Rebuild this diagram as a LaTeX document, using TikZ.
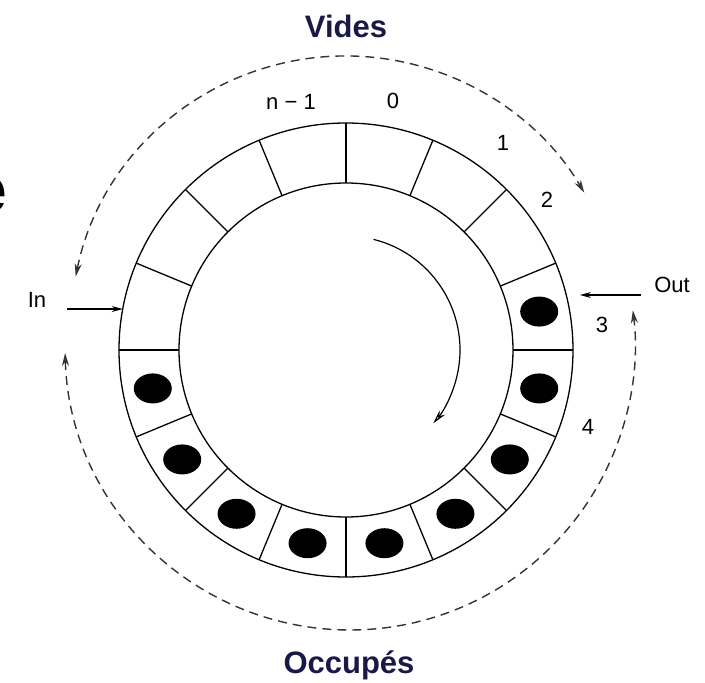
\documentclass[tikz,border=0pt]{standalone}
\usepackage{fontspec}
\setmainfont{Liberation Sans}
\usetikzlibrary{arrows.meta,calc}
\definecolor{titleblue}{RGB}{25,25,70}

\begin{document}
\begin{tikzpicture}[x=1pt,y=1pt,
  ring/.style={line width=1.3pt},
  flow/.style={dash pattern=on 9pt off 6pt,line width=1.4pt,color=black!80,
    {Stealth[open,length=13pt,width=7pt]}-{Stealth[open,length=13pt,width=7pt]}},
  pointer/.style={line width=1.1pt,-{Stealth[length=11pt,width=6pt]}},
  lbl/.style={font=\fontsize{22}{24}\selectfont,inner sep=1pt},
  ttl/.style={font=\fontsize{31}{34}\selectfont\bfseries,text=titleblue,anchor=base}]
  \useasboundingbox (-346,-333) rectangle (359,350);

  % buffer ring, 16 cells
	\draw[ring] (0,0) circle (227);
	\draw[ring] (0,0) circle (167);
  \foreach \a in {0,22.5,...,337.5} \draw[ring] (\a:167)--(\a:227);

  % occupied cells 3 .. 11
  \foreach \k in {0,...,8} \fill ({11.25-22.5*\k}:197) ellipse (19 and 15);

  % cell numbers
  \node[lbl] (cnm) at (-55,248) {n − 1};
  \node[lbl] (c0) at (47,249) {0};
  \node[lbl] (c1) at (157,207) {1};
  \node[lbl] (c2) at (201,150) {2};
  \node[lbl] (c3) at (256,25) {3};
  \node[lbl] (c4) at (242,-77) {4};

  % in / out pointers
  \node[lbl] (in) at (-309,50) {In};
  \node[lbl] (out) at (326,65) {Out};
  \coordinate (inpt) at (169.6:227);
  \coordinate (outpt) at (234,55);
	\draw[pointer] ($(in.east |- inpt)+(20,0)$) -- (inpt);
	\draw[pointer] ($(out.west |- outpt)+(-12,0)$) -- (outpt);

  % sense of rotation
	\draw[line width=1.2pt,-{Stealth[open,length=14pt,width=7pt]}] (76:114) arc[start angle=76,end angle=-40,radius=114];

  % free / used stretches
	\draw[flow] ($(0,18)+(168.4:276)$) arc[start angle=168.4,end angle=30.3,radius=276];
	\draw[flow] ($(4,5)+(181.6:285)$) arc[start angle=181.6,end angle=367,radius=285];
  \node[ttl] (vides) at (0,312) {Vides};
  \node[ttl] (occ) at (3,-323) {Occupés};

  \node[font=\fontsize{66}{70}\selectfont\bfseries,anchor=east,inner sep=0pt] (frag) at (-339,155) {e};

\end{tikzpicture}
\end{document}
